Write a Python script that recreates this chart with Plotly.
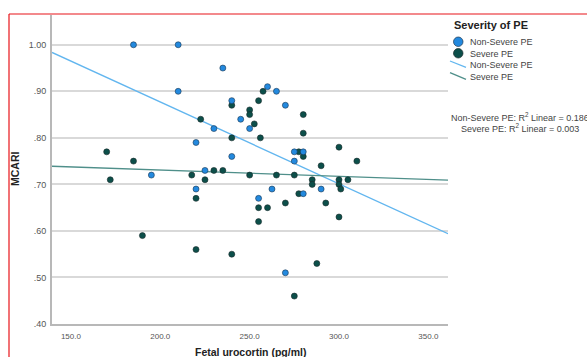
import plotly.graph_objects as go

# ---- data ----
nonsevere_x = [185, 210, 235, 210, 240, 245, 250, 230, 260, 265, 270, 220, 240, 275, 275, 280,
               195, 225, 220, 255, 262.5, 270, 290, 280]
nonsevere_y = [1.00, 1.00, 0.95, 0.90, 0.88, 0.84, 0.82, 0.82, 0.91, 0.90, 0.87, 0.79, 0.76, 0.75, 0.77, 0.77,
               0.72, 0.73, 0.69, 0.67, 0.69, 0.51, 0.69, 0.68]

severe_x = [240, 222.6, 250, 250, 252.6, 255, 257.5, 240, 256, 170, 185, 277.5, 172, 217.6, 230, 235,
            225, 220, 250, 265, 275, 255, 260, 255, 270, 277.5, 190, 220, 240, 275, 280, 280, 280,
            300, 290, 310, 285, 285, 300, 300, 301, 305, 292.6, 300, 287.6]
severe_y = [0.87, 0.84, 0.86, 0.85, 0.83, 0.88, 0.90, 0.80, 0.80, 0.77, 0.75, 0.77, 0.71, 0.72, 0.73, 0.73,
            0.71, 0.67, 0.72, 0.72, 0.72, 0.65, 0.65, 0.62, 0.66, 0.68, 0.59, 0.56, 0.55, 0.46, 0.85, 0.81, 0.76,
            0.78, 0.74, 0.75, 0.71, 0.70, 0.71, 0.70, 0.69, 0.71, 0.66, 0.63, 0.53]

# fit lines: y values at the x-range ends
fit_x = [139.4, 361.0]
fit_nonsevere = [0.9835, 0.594]
fit_severe = [0.739, 0.709]

x_ticks = [150, 200, 250, 300, 350]
x_ticklabels = ["150.0", "200.0", "250.0", "300.0", "350.0"]
y_ticks = [0.4, 0.5, 0.6, 0.7, 0.8, 0.9, 1.0]
y_ticklabels = [".40", ".50", ".60", ".70", ".80", ".90", "1.00"]

series_names = ["Non-Severe PE", "Severe PE"]
r2_text = ["Non-Severe PE: R<sup>2</sup> Linear = 0.186", "Severe PE: R<sup>2</sup> Linear = 0.003"]

BLUE = "#2389de"
DARK = "#0c4f4a"
BLUE_LINE = "#62b6ef"
TEAL_LINE = "#4f8f8a"

fig = go.Figure()
fig.add_trace(go.Scatter(x=fit_x, y=fit_nonsevere, mode="lines",
                         line=dict(color=BLUE_LINE, width=1.3), showlegend=False, hoverinfo="skip"))
fig.add_trace(go.Scatter(x=fit_x, y=fit_severe, mode="lines",
                         line=dict(color=TEAL_LINE, width=1.3), showlegend=False, hoverinfo="skip"))
fig.add_trace(go.Scatter(x=severe_x, y=severe_y, mode="markers", name=series_names[1],
                         marker=dict(color=DARK, size=6, line=dict(color="#1a2a2a", width=0.6)),
                         showlegend=False))
fig.add_trace(go.Scatter(x=nonsevere_x, y=nonsevere_y, mode="markers", name=series_names[0],
                         marker=dict(color=BLUE, size=6, line=dict(color="#1a3550", width=0.6)),
                         showlegend=False))

# plot area in pixels: x 52..448, y 15..324
W, H = 587, 357
L, R, T, B = 52, 448, 15, 324
pw, ph = R - L, B - T

def px(x):
    return (x - L) / pw

def py(y):
    return (B - y) / ph

shapes = []
# red frame
shapes.append(dict(type="line", xref="paper", yref="paper", x0=px(9), x1=px(600), y0=py(14), y1=py(14),
                   line=dict(color="#e8141a", width=1.2), layer="above"))
shapes.append(dict(type="line", xref="paper", yref="paper", x0=px(9), x1=px(9), y0=py(14), y1=py(370),
                   line=dict(color="#e8141a", width=1.2), layer="above"))
# legend symbols
shapes.append(dict(type="circle", xref="paper", yref="paper", x0=px(453.5), x1=px(463), y0=py(46.5), y1=py(37),
                   fillcolor=BLUE, line=dict(color="#1a3550", width=0.7)))
shapes.append(dict(type="circle", xref="paper", yref="paper", x0=px(453.5), x1=px(463), y0=py(58), y1=py(48.5),
                   fillcolor=DARK, line=dict(color="#1a2a2a", width=0.7)))
shapes.append(dict(type="line", xref="paper", yref="paper", x0=px(450), x1=px(466), y0=py(61), y1=py(67.3),
                   line=dict(color=BLUE_LINE, width=1.3)))
shapes.append(dict(type="line", xref="paper", yref="paper", x0=px(450), x1=px(466), y0=py(72.7), y1=py(79.3),
                   line=dict(color=TEAL_LINE, width=1.3)))

ann = []
ann.append(dict(text="<b>Severity of PE</b>", xref="paper", yref="paper", x=px(452), y=py(25),
                xanchor="left", yanchor="middle", showarrow=False,
                font=dict(family="Liberation Sans, Arial", size=11, color="#222222")))
for i, (yy, name) in enumerate(zip([42, 54, 65, 77], series_names + series_names)):
    ann.append(dict(text=name, xref="paper", yref="paper", x=px(468.5), y=py(yy),
                    xanchor="left", yanchor="middle", showarrow=False,
                    font=dict(family="Liberation Sans, Arial", size=9, color="#444444")))
for yy, t in zip([117, 128], r2_text):
    ann.append(dict(text=t, xref="paper", yref="paper", x=px(519.5), y=py(yy),
                    xanchor="center", yanchor="middle", showarrow=False,
                    font=dict(family="Liberation Sans, Arial", size=9, color="#444444")))
# axis titles
ann.append(dict(text="<b>Fetal urocortin (pg/ml)</b>", xref="paper", yref="paper", x=0.5, y=py(352),
                xanchor="center", yanchor="middle", showarrow=False,
                font=dict(family="Liberation Sans, Arial", size=10.5, color="#222222")))
ann.append(dict(text="<b>MCARI</b>", xref="paper", yref="paper", x=px(14.5), y=0.5, textangle=-90,
                xanchor="center", yanchor="middle", showarrow=False,
                font=dict(family="Liberation Sans, Arial", size=10.5, color="#222222")))

fig.update_layout(
    width=W, height=H,
    margin=dict(l=L, r=W - R, t=T, b=H - B),
    paper_bgcolor="white", plot_bgcolor="white",
    showlegend=False,
    shapes=shapes, annotations=ann,
    xaxis=dict(range=[139.4, 361.0], tickvals=x_ticks, ticktext=x_ticklabels,
               showgrid=False, zeroline=False, showline=True, linecolor="#b8b8b8", linewidth=2,
               ticks="", tickfont=dict(family="Liberation Sans, Arial", size=8, color="#555555"),
               ticklabelstandoff=3),
    yaxis=dict(range=[0.40, 1.064], tickvals=y_ticks, ticktext=y_ticklabels,
               showgrid=True, gridcolor="#d9d9d9", gridwidth=1.5, zeroline=False,
               showline=True, linecolor="#b8b8b8", linewidth=2,
               ticks="", tickfont=dict(family="Liberation Sans, Arial", size=9, color="#555555"),
               ticklabelstandoff=2),
)

fig.write_html("out.html")
